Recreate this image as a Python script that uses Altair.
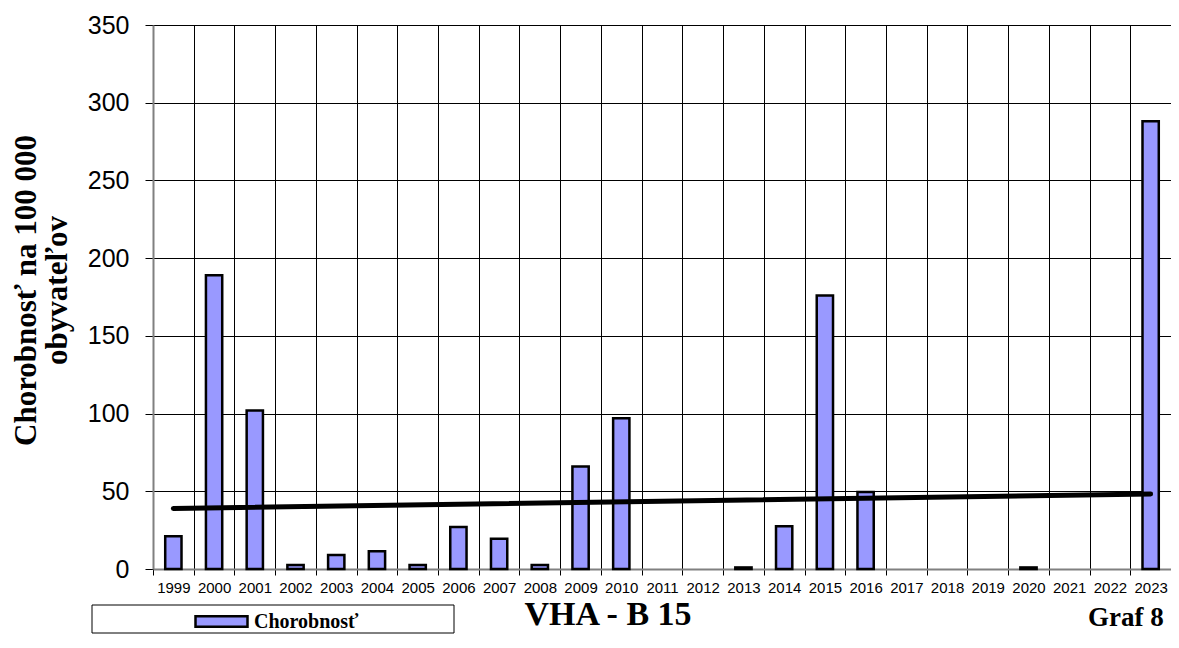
import altair as alt
import pandas as pd

years = [str(y) for y in range(1999, 2024)]
values = [21, 189, 102, 2.5, 9, 11.5, 2.5, 27, 19.5, 2.5, 66, 97, 0, 0, 1,
          27.5, 176, 49.5, 0, 0, 0, 1, 0, 0, 288]
trend_years = ["1999", "2023"]
trend_values = [39.0, 48.3]
y_ticks = [0, 50, 100, 150, 200, 250, 300, 350]
series_name = "Chorobnosť"
y_title = ["Chorobnosť na 100 000", "obyvateľov"]
chart_title = "VHA - B 15"
graf_label = "Graf 8"

bars_df = pd.DataFrame({"rok": years, "hodnota": values, "serie": series_name})
trend_df = pd.DataFrame({"rok": trend_years, "hodnota": trend_values})
one_df = pd.DataFrame({"a": [0]})

x_enc = alt.X(
    "rok:N",
    sort=years,
    scale=alt.Scale(domain=years, paddingInner=0, paddingOuter=0),
    axis=alt.Axis(
        title=None, labelAngle=0, tickBand="extent", grid=True,
        gridColor="black", gridWidth=1, gridOpacity=1,
        domainColor="#808080", domainWidth=2,
        tickColor="black", tickSize=6, labelPadding=5,
        labelFont="Liberation Sans", labelFontSize=15, labelColor="black",
    ),
)
y_enc = alt.Y(
    "hodnota:Q",
    scale=alt.Scale(domain=[0, 350], nice=False),
    axis=alt.Axis(
        values=y_ticks, title=y_title, grid=True, gridColor="black",
        gridWidth=1, gridOpacity=1, domainColor="#808080", domainWidth=2,
        tickColor="black", tickSize=8, labelPadding=16,
        labelFont="Liberation Sans", labelFontSize=25, labelColor="black",
        titleFont="Liberation Serif", titleFontSize=31, titleFontWeight="bold",
        titleColor="black", titleLineHeight=31, titleAngle=270,
        titleX=-127, titleY=265, titleAlign="center", titleBaseline="middle",
    ),
)

box = alt.Chart(one_df).mark_rect(fill="white", stroke="black", strokeWidth=1).encode(
    x=alt.value(-61), x2=alt.value(301), y=alt.value(580), y2=alt.value(608)
)

bars = alt.Chart(bars_df).transform_filter("datum.hodnota > 0").mark_bar(
    width=alt.RelativeBandSize(0.4), stroke="black", strokeWidth=2.5
).encode(
    x=x_enc,
    y=y_enc,
    color=alt.Color(
        "serie:N",
        scale=alt.Scale(range=["#9999ff"]),
        legend=alt.Legend(
            title=None, orient="none", legendX=41, legendY=569,
            symbolType="M-1,-0.2L1,-0.2L1,0.2L-1,0.2Z", symbolSize=2704,
            symbolStrokeColor="black", symbolStrokeWidth=2.5, symbolOpacity=1,
            labelFont="Liberation Serif", labelFontSize=20, labelFontWeight="bold",
            labelColor="black", labelOffset=5, padding=0,
        ),
    ),
)

trend = alt.Chart(trend_df).mark_line(color="black", strokeWidth=5, strokeCap="round").encode(
    x=x_enc, y=y_enc
)

title_txt = alt.Chart(one_df).mark_text(
    text=chart_title, font="Liberation Serif", fontSize=34, fontWeight="bold",
    color="black", align="center", baseline="alphabetic"
).encode(x=alt.value(455), y=alt.value(600))

graf_txt = alt.Chart(one_df).mark_text(
    text=graf_label, font="Liberation Serif", fontSize=27, fontWeight="bold",
    color="black", align="left", baseline="alphabetic"
).encode(x=alt.value(935), y=alt.value(601))

chart = alt.layer(box, bars, trend, title_txt, graf_txt).properties(
    width=1018, height=544,
    autosize=alt.AutoSizeParams(type="none"),
    padding={"left": 145, "top": 17, "right": 0, "bottom": 65},
).configure_view(stroke="#808080", strokeWidth=2).configure(background="white")

chart.save("out.html", embed_options={"renderer": "svg", "actions": False})
